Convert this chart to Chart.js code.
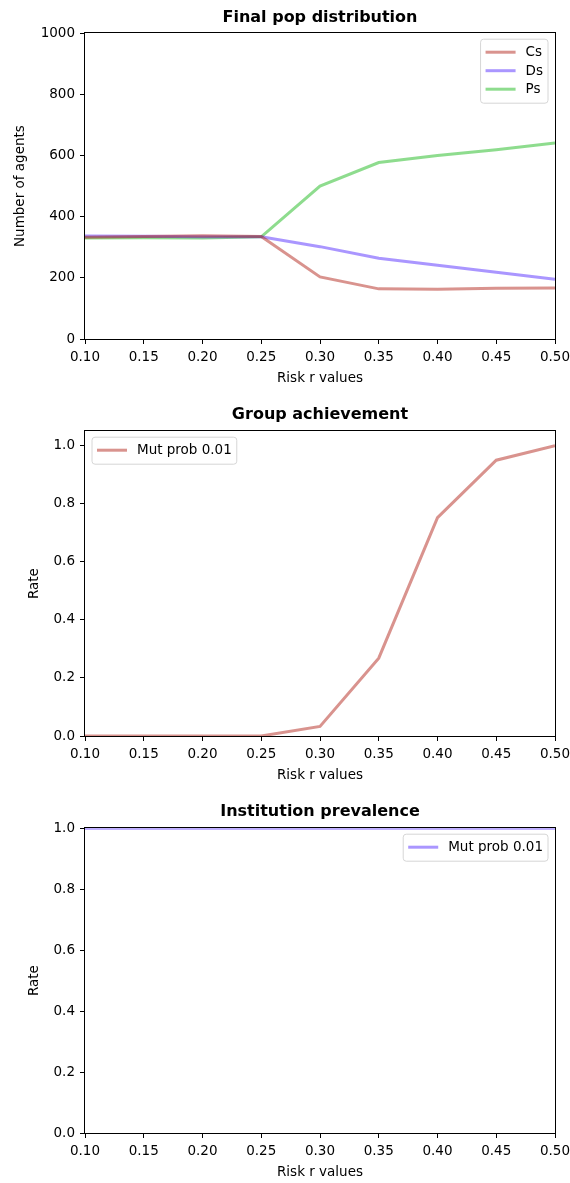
<!DOCTYPE html>
<html><head><meta charset="utf-8">
<script src="https://cdn.jsdelivr.net/npm/chart.js@4.4.1/dist/chart.umd.min.js"></script>
<style>
html,body{margin:0;padding:0;background:#fff;overflow:hidden;width:570px;height:1183px;}
.panel{position:absolute;left:0;width:570px;height:397px;}
canvas{display:block;}
</style></head><body>
<div class="panel" style="top:0"><canvas id="c1" width="570" height="397"></canvas></div>
<div class="panel" style="top:397px"><canvas id="c2" width="570" height="397"></canvas></div>
<div class="panel" style="top:794px"><canvas id="c3" width="570" height="397"></canvas></div>
<script>
// ---- data ----
const riskValues = [0.10, 0.15, 0.20, 0.25, 0.30, 0.35, 0.40, 0.45, 0.50];
const csValues = [333, 335, 338, 335, 203, 164, 163, 166, 167];
const dsValues = [337, 336, 334, 334, 302, 264, 241, 218, 195];
const psValues = [330, 331, 330, 334, 500, 577, 600, 619, 641];
const groupAchievement = [0, 0, 0, 0, 0.033, 0.268, 0.752, 0.95, 1.0];
const institutionPrevalence = [1, 1, 1, 1, 1, 1, 1, 1, 1];
const xTickValues = [0.10, 0.15, 0.20, 0.25, 0.30, 0.35, 0.40, 0.45, 0.50];
const popTickValues = [0, 200, 400, 600, 800, 1000];
const rateTickValues = [0.0, 0.2, 0.4, 0.6, 0.8, 1.0];

const CS_COLOR = 'rgba(180,40,30,0.5)';
const DS_COLOR = 'rgba(85,45,255,0.5)';
const PS_COLOR = 'rgba(30,185,30,0.5)';
const FONT = '"DejaVu Sans", sans-serif';

Chart.defaults.font.family = FONT;
Chart.defaults.font.size = 13.5;
Chart.defaults.color = '#000';

const pts = vals => riskValues.map((x, i) => ({x: x, y: vals[i]}));

const frame = {
  id: 'frame',
  afterDraw(chart) {
    const {ctx, chartArea: a} = chart;
    ctx.save();
    ctx.strokeStyle = '#000';
    ctx.lineWidth = 1;
    const l = Math.round(a.left), t = Math.round(a.top), r = Math.round(a.right), b = Math.round(a.bottom);
    ctx.strokeRect(l - 0.5, t - 0.5, r - l + 1, b - t + 1);
    ctx.restore();
  }
};

const mplLegend = {
  id: 'mplLegend',
  afterDraw(chart, args, opts) {
    if (!opts || !opts.loc) return;
    const {ctx, chartArea: a} = chart;
    const ds = chart.data.datasets;
    ctx.save();
    ctx.font = '13.5px ' + FONT;
    const tw = Math.max(...ds.map(d => ctx.measureText(d.label).width));
    const padL = 5, handle = 30, gap = 10, padR = 5;
    const padT = 13, padB = 14, pitch = 18.5;
    const w = padL + handle + gap + tw + padR;
    const h = padT + padB + (ds.length - 1) * pitch;
    const x = opts.loc === 'right' ? a.right - 7 - w : a.left + 7;
    const y = a.top + 6;
    ctx.beginPath();
    const r = 3;
    ctx.moveTo(x + r, y);
    ctx.lineTo(x + w - r, y); ctx.quadraticCurveTo(x + w, y, x + w, y + r);
    ctx.lineTo(x + w, y + h - r); ctx.quadraticCurveTo(x + w, y + h, x + w - r, y + h);
    ctx.lineTo(x + r, y + h); ctx.quadraticCurveTo(x, y + h, x, y + h - r);
    ctx.lineTo(x, y + r); ctx.quadraticCurveTo(x, y, x + r, y);
    ctx.closePath();
    ctx.fillStyle = 'rgba(255,255,255,0.8)';
    ctx.fill();
    ctx.strokeStyle = '#d6d6d6';
    ctx.lineWidth = 1;
    ctx.stroke();
    ds.forEach((d, i) => {
      const cy = y + padT + i * pitch;
      ctx.strokeStyle = d.borderColor;
      ctx.lineWidth = d.borderWidth;
      ctx.beginPath();
      ctx.moveTo(x + padL, cy); ctx.lineTo(x + padL + handle, cy);
      ctx.stroke();
      ctx.fillStyle = '#000';
      ctx.textBaseline = 'middle';
      ctx.textAlign = 'left';
      ctx.fillText(d.label, x + padL + handle + gap, cy + 0.5);
    });
    ctx.restore();
  }
};

function makeChart(id, cfg) {
  const yTickArr = cfg.yTicks;
  return new Chart(document.getElementById(id), {
    type: 'line',
    data: {datasets: cfg.datasets.map(d => ({
      label: d.label, data: pts(d.values), borderColor: d.color, backgroundColor: d.color,
      borderWidth: 3, pointRadius: 0, tension: 0, fill: false
    }))},
    options: {
      responsive: false, animation: false,
      layout: {padding: {left: 0, right: 15, top: 0, bottom: 0}},
      plugins: {
        legend: {display: false},
        tooltip: {enabled: false},
        title: {display: true, fullSize: false, text: cfg.title, color: '#000',
                font: {size: 16, weight: 'bold', family: FONT},
                padding: {top: 8, bottom: cfg.titleBottom}},
        mplLegend: {loc: cfg.legendLoc}
      },
      scales: {
        x: {
          type: 'linear', min: 0.1, max: 0.5,
          afterFit(s) { s.height = 58; s.paddingLeft = 0; s.paddingRight = 0; },
          afterBuildTicks(s) { s.ticks = xTickValues.map(v => ({value: v})); },
          grid: {drawOnChartArea: false, drawTicks: true, tickLength: 5, color: '#000', lineWidth: 1},
          border: {display: false},
          ticks: {padding: 5, maxRotation: 0, autoSkip: false, color: '#000',
                  callback: v => Number(v).toFixed(2)},
          title: {display: true, text: 'Risk r values', color: '#000',
                  font: {size: 13.5}, padding: {top: 0, bottom: 10}}
        },
        y: {
          type: 'linear', min: cfg.yMin, max: cfg.yMax,
          afterFit(s) { s.width = 85; s.paddingTop = 0; s.paddingBottom = 0; },
          afterBuildTicks(s) { s.ticks = yTickArr.map(v => ({value: v})); },
          grid: {drawOnChartArea: false, drawTicks: true, tickLength: 5, color: '#000', lineWidth: 1},
          border: {display: false},
          ticks: {padding: 5, color: '#000', callback: cfg.yFmt},
          title: {display: true, text: cfg.yTitle, color: '#000',
                  font: {size: 13.5}, padding: {top: cfg.yTitlePad, bottom: 0}}
        }
      }
    },
    plugins: [frame, mplLegend]
  });
}

makeChart('c1', {
  title: 'Final pop distribution', titleBottom: 6,
  yTitle: 'Number of agents', yTitlePad: 12,
  yMin: 0, yMax: 1000, yTicks: popTickValues, yFmt: v => String(v),
  legendLoc: 'right',
  datasets: [
    {label: 'Cs', values: csValues, color: CS_COLOR},
    {label: 'Ds', values: dsValues, color: DS_COLOR},
    {label: 'Ps', values: psValues, color: PS_COLOR}
  ]
});
makeChart('c2', {
  title: 'Group achievement', titleBottom: 7,
  yTitle: 'Rate', yTitlePad: 26,
  yMin: 0, yMax: 1.05, yTicks: rateTickValues, yFmt: v => Number(v).toFixed(1),
  legendLoc: 'left',
  datasets: [{label: 'Mut prob 0.01', values: groupAchievement, color: CS_COLOR}]
});
makeChart('c3', {
  title: 'Institution prevalence', titleBottom: 7,
  yTitle: 'Rate', yTitlePad: 26,
  yMin: 0, yMax: 1.0, yTicks: rateTickValues, yFmt: v => Number(v).toFixed(1),
  legendLoc: 'right',
  datasets: [{label: 'Mut prob 0.01', values: institutionPrevalence, color: DS_COLOR}]
});
</script>
</body></html>
